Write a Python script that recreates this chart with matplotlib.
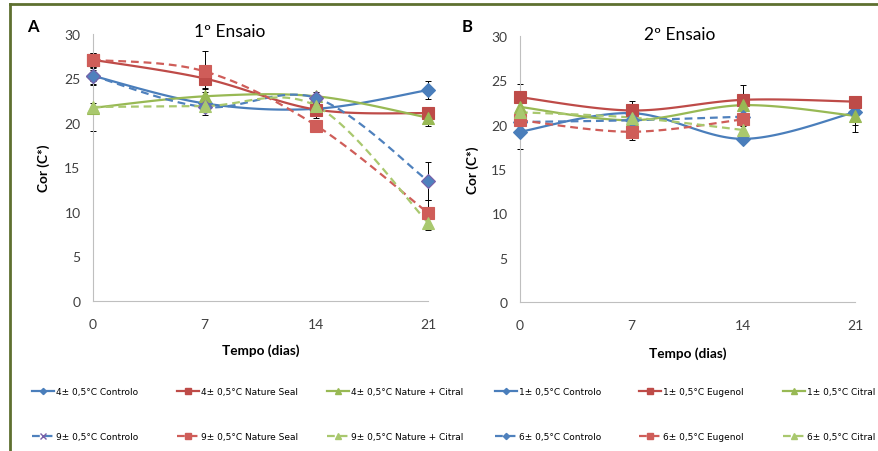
import numpy as np
import matplotlib
matplotlib.use('Agg')
import matplotlib.pyplot as plt
from matplotlib.lines import Line2D

days = [0, 7, 14, 21]
days_b6 = [0, 7, 14]

# ensaio 1
a_4_controlo = [25.3, 22.2, 21.6, 23.7]
a_4_nseal = [27.1, 25.0, 21.5, 21.1]
a_4_ncitral = [21.7, 23.0, 23.0, 20.6]
a_9_controlo = [25.3, 21.8, 22.8, 13.5]
a_9_nseal = [27.1, 25.8, 19.7, 9.9]
a_9_ncitral = [21.8, 21.9, 21.9, 8.8]

a_4_controlo_err = [0.9, 0.5, 0.6, 1.0]
a_4_nseal_err = [0.8, 1.2, 0.9, 0.4]
a_4_ncitral_err = [2.6, 0.9, 0.5, 0.9]
a_9_controlo_err = [0.6, 0.5, 0.5, 2.1]
a_9_nseal_err = [0.8, 2.3, 0.6, 1.4]
a_9_ncitral_err = [0.4, 1.0, 0.4, 0.8]

# ensaio 2
b_1_controlo = [19.2, 21.3, 18.4, 21.4]
b_1_eugenol = [23.1, 21.6, 22.8, 22.6]
b_1_citral = [22.0, 20.5, 22.2, 21.0]
b_6_controlo = [20.3, 20.5, 20.9]
b_6_eugenol = [20.5, 19.2, 20.6]
b_6_citral = [21.4, 20.8, 19.4]

b_1_controlo_err = [1.9, 0.5, 0.4, 1.4]
b_1_eugenol_err = [1.5, 1.1, 1.7, 0.3]
b_1_citral_err = [0.5, 0.6, 0.5, 1.8]
b_6_controlo_err = [0.4, 0.4, 0.4]
b_6_eugenol_err = [0.6, 0.9, 0.5]
b_6_citral_err = [0.4, 0.5, 0.4]

blue, red, green = '#4a7ebb', '#be4b48', '#98b954'
blue2, red2, green2 = '#4f81bd', '#cf5d59', '#a9c86e'

plt.rcParams['font.family'] = ['Lato', 'DejaVu Sans']


def smooth(x, y, n=40):
    # excel style smoothed line (bezier through points)
    p = np.column_stack([x, y]).astype(float)
    out = []
    for i in range(len(p) - 1):
        p0 = p[i - 1] if i > 0 else p[i]
        p1, p2 = p[i], p[i + 1]
        p3 = p[i + 2] if i + 2 < len(p) else p[i + 1]
        c1 = p1 + (p2 - p0) / 6
        c2 = p2 - (p3 - p1) / 6
        t = np.linspace(0, 1, n)[:, None]
        seg = (1 - t)**3 * p1 + 3 * (1 - t)**2 * t * c1 + 3 * (1 - t) * t**2 * c2 + t**3 * p2
        out.append(seg)
    out = np.vstack(out)
    return out[:, 0], out[:, 1]


def serie(ax, x, y, err, color, marker, ms, dashed=False, mec=None):
    sx, sy = smooth(x, y)
    ls = (0, (3.5, 2.2)) if dashed else '-'
    ax.plot(sx, sy, color=color, lw=1.6, linestyle=ls, clip_on=False, zorder=3)
    ax.errorbar(x, y, yerr=err, fmt='none', ecolor='black', elinewidth=0.7,
                capsize=2.5, capthick=0.7, zorder=2, clip_on=False)
    ax.plot(x, y, linestyle='none', marker=marker, ms=ms, color=color,
            mec=mec or color, mew=0.8, clip_on=False, zorder=4)
    return Line2D([], [], color=color, lw=1.6, linestyle=ls, marker=marker,
                  ms=ms * 0.45, mec=mec or color)


def style(ax, title, tx, ty, lx, ly):
    ax.set_xlim(0, 21)
    ax.set_ylim(0, 30)
    ax.set_xticks(days)
    ax.set_yticks(range(0, 31, 5))
    for s in ['top', 'right']:
        ax.spines[s].set_visible(False)
    for s in ['left', 'bottom']:
        ax.spines[s].set_color('#bfbfbf')
        ax.spines[s].set_linewidth(0.8)
    ax.tick_params(length=0, labelsize=10, labelcolor='#404040')
    ax.tick_params(axis='x', pad=12)
    ax.tick_params(axis='y', pad=9)
    ax.text(tx, ty, title, transform=ax.transAxes, ha='center', va='center',
            fontsize=12.5, color='black')
    ax.set_xlabel('Tempo (dias)', fontsize=9.8, fontweight='bold')
    ax.set_ylabel('Cor (C*)', fontsize=9.8, fontweight='bold')
    ax.xaxis.set_label_coords(0.5, lx)
    ax.yaxis.set_label_coords(ly, 0.5)


fig = plt.figure(figsize=(8.79, 4.52), dpi=100)
axA = fig.add_axes([93 / 879, 1 - 302 / 452, 335 / 879, 267 / 452])
axB = fig.add_axes([520 / 879, 1 - 303 / 452, 335 / 879, 266 / 452])

hA = [
    serie(axA, days, a_4_controlo, a_4_controlo_err, blue, 'D', 7),
    serie(axA, days, a_4_nseal, a_4_nseal_err, red, 's', 8.5),
    serie(axA, days, a_4_ncitral, a_4_ncitral_err, green, '^', 8.5),
    serie(axA, days, a_9_controlo, a_9_controlo_err, blue2, 'D', 7, True, mec='#7a5fa8'),
    serie(axA, days, a_9_nseal, a_9_nseal_err, red2, 's', 8.5, True),
    serie(axA, days, a_9_ncitral, a_9_ncitral_err, green2, '^', 8.5, True),
]
hA[3] = Line2D([], [], color=blue2, lw=1.6, linestyle=(0, (3.5, 2.2)), marker='x',
               ms=4, mec='#7a5fa8')

hB = [
    serie(axB, days, b_1_controlo, b_1_controlo_err, blue, 'D', 7),
    serie(axB, days, b_1_eugenol, b_1_eugenol_err, red, 's', 8.5),
    serie(axB, days, b_1_citral, b_1_citral_err, green, '^', 8.5),
    serie(axB, days_b6, b_6_controlo, b_6_controlo_err, blue2, 'D', 7, True),
    serie(axB, days_b6, b_6_eugenol, b_6_eugenol_err, red2, 's', 8.5, True),
    serie(axB, days_b6, b_6_citral, b_6_citral_err, green2, '^', 8.5, True),
]

style(axA, '1º Ensaio', 0.409, 1.011, -0.157, -0.128)
style(axB, '2º Ensaio', 0.478, 1.008, -0.165, -0.122)

fig.text(33 / 879, 1 - 27 / 452, 'A', fontsize=12, fontweight='bold', ha='center', va='center')
fig.text(467 / 879, 1 - 27 / 452, 'B', fontsize=12, fontweight='bold', ha='center', va='center')

labels_a = ['4± 0,5°C Controlo', '4± 0,5°C Nature Seal', '4± 0,5°C Nature + Citral',
            '9± 0,5°C Controlo', '9± 0,5°C Nature Seal', '9± 0,5°C Nature + Citral']
labels_b = ['1± 0,5°C Controlo', '1± 0,5°C Eugenol', '1± 0,5°C Citral',
            '6± 0,5°C Controlo', '6± 0,5°C Eugenol', '6± 0,5°C Citral']
handles = hA + hB
labels = labels_a + labels_b
col_x = [32, 177, 327, 495, 639, 783]
pairs = [(0, 3), (1, 4), (2, 5), (6, 9), (7, 10), (8, 11)]
for cx, (i, j) in zip(col_x, pairs):
    fig.legend([handles[i], handles[j]], [labels[i], labels[j]],
               loc='upper left', bbox_to_anchor=(cx / 879, 1 - 388 / 452),
               frameon=False, borderpad=0, borderaxespad=0, handlelength=2.4,
               handletextpad=0.25, labelspacing=4.0,
               prop={'family': ['Liberation Sans Narrow', 'DejaVu Sans'], 'size': 6.5})

# moldura
bc = '#5e7030'
fig.add_artist(Line2D([10 / 879, 1], [1 - 5 / 452, 1 - 5 / 452], color=bc, lw=2,
                      transform=fig.transFigure))
fig.add_artist(Line2D([10 / 879, 10 / 879], [0, 1 - 5 / 452], color=bc, lw=2,
                      transform=fig.transFigure))

fig.savefig('out.png', dpi=100)
